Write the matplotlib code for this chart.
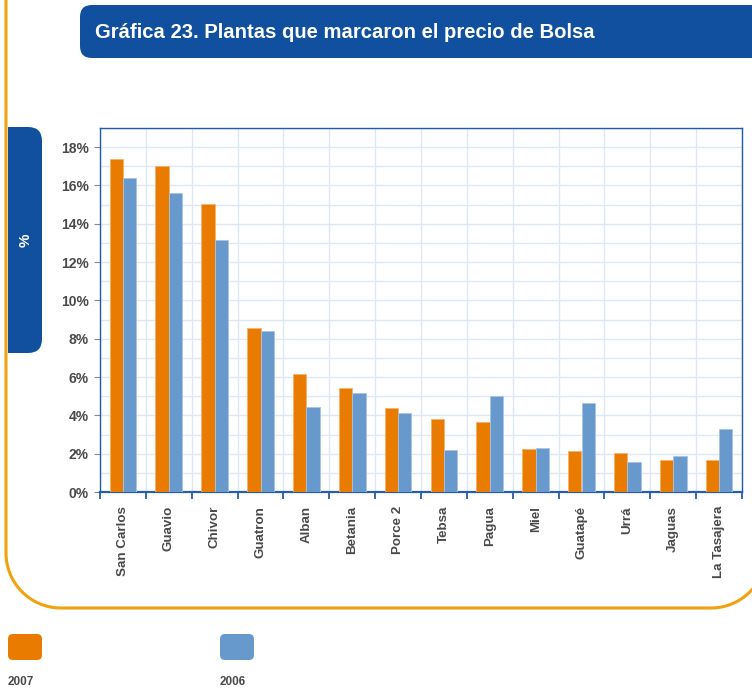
import matplotlib.pyplot as plt
import numpy as np
from matplotlib.patches import FancyBboxPatch, Rectangle

plt.rcParams['font.family'] = ['Liberation Sans', 'DejaVu Sans']

# datos (%)
plantas = ['San Carlos', 'Guavio', 'Chivor', 'Guatron', 'Alban', 'Betania', 'Porce 2',
           'Tebsa', 'Pagua', 'Miel', 'Guatapé', 'Urrá', 'Jaguas', 'La Tasajera']
v2007 = [17.4, 17.0, 15.05, 8.58, 6.17, 5.43, 4.37, 3.8, 3.64, 2.27, 2.13, 2.03, 1.66, 1.66]
v2006 = [16.4, 15.6, 13.15, 8.4, 4.46, 5.15, 4.1, 2.18, 4.99, 2.32, 4.67, 1.56, 1.88, 3.27]
series = ['2007', '2006']

naranja = '#E97C00'
azul = '#6899CC'
azul_osc = '#11509E'
linea = '#F2A10F'
gris = '#4A4A4A'

W, H = 752, 688
fig = plt.figure(figsize=(W / 100, H / 100), dpi=100)

# capa de decoracion en pixeles
bg = fig.add_axes([0, 0, 1, 1])
bg.set_xlim(0, W)
bg.set_ylim(H, 0)
bg.axis('off')

# marco naranja: linea izquierda, esquinas redondeadas abajo
r = 55
t = np.linspace(0, np.pi / 2, 40)
xs = [6, 6]
ys = [0, 608 - r]
xs += list(6 + r - r * np.cos(t))
ys += list(608 - r + r * np.sin(t))
xs += [766 - r]
ys += [608]
xs += list(766 - r + r * np.sin(t))
ys += list(608 - r + r * np.cos(t))
bg.plot(xs, ys, color=linea, lw=2.2, solid_capstyle='butt')

# caja del titulo
caja = FancyBboxPatch((80, 5), 700, 53, boxstyle='round,pad=0,rounding_size=12',
                      fc=azul_osc, ec='none')
bg.add_patch(caja)
bg.text(95, 33, 'Gráfica 23. Plantas que marcaron el precio de Bolsa', color='white',
        fontsize=14.6, fontweight='bold', va='center', ha='left')

# pestaña del eje y
tab = FancyBboxPatch((-20, 127), 62, 226, boxstyle='round,pad=0,rounding_size=14',
                     fc=azul_osc, ec='none', zorder=3)
bg.add_patch(tab)
tab.set_clip_path(Rectangle((8, 0), W, H, transform=bg.transData))
bg.text(26, 240, '%', color='white', fontsize=11, fontweight='bold', rotation=90,
        ha='center', va='center', zorder=4)

# leyenda
for i, (s, c) in enumerate(zip(series, [naranja, azul])):
    x0 = 8 + i * 212
    bg.add_patch(FancyBboxPatch((x0, 634), 34, 26, boxstyle='round,pad=0,rounding_size=5',
                                fc=c, ec='none'))
    bg.text(x0, 682, s, color=gris, fontsize=8.5, fontweight='bold', ha='left', va='center')

# grafica
ax = fig.add_axes([100 / W, 1 - 492 / H, 642 / W, 364 / H])
x = np.arange(len(plantas))
w = 0.29
ax.bar(x - w / 2, v2007, w, color=naranja, edgecolor='#F6B26B', linewidth=0.6, zorder=3)
ax.bar(x + w / 2, v2006, w, color=azul, edgecolor='#A9C4E4', linewidth=0.6, zorder=3)

ax.set_xlim(-0.5, len(plantas) - 0.5)
ax.set_ylim(0, 19)
ax.set_yticks(np.arange(0, 19, 2))
ax.set_yticklabels([f'{v}%' for v in range(0, 19, 2)], fontsize=10, fontweight='bold', color=gris)
ax.set_yticks(np.arange(0, 20, 1), minor=True)
ax.tick_params(axis='y', which='major', length=4, color='#888888', pad=4)
ax.tick_params(axis='y', which='minor', length=0)

ax.set_xticks(x)
ax.set_xticklabels(plantas, rotation=90, fontsize=9.6, fontweight='bold', color=gris)
ax.set_xticks(np.arange(-0.5, len(plantas), 1), minor=True)
ax.tick_params(axis='x', which='major', length=0, pad=10)
ax.tick_params(axis='x', which='minor', length=5, width=1.3, color='#2A5DA8')

ax.grid(which='minor', color='#DCE8F6', linewidth=1, zorder=0)
ax.grid(which='major', axis='y', color='#DCE8F6', linewidth=1, zorder=0)

for k in ['left', 'top', 'right']:
    ax.spines[k].set_color('#1F5BB0')
    ax.spines[k].set_linewidth(1)
ax.spines['bottom'].set_color('#2A5DA8')
ax.spines['bottom'].set_linewidth(1.6)

fig.savefig('out.png', dpi=100)
